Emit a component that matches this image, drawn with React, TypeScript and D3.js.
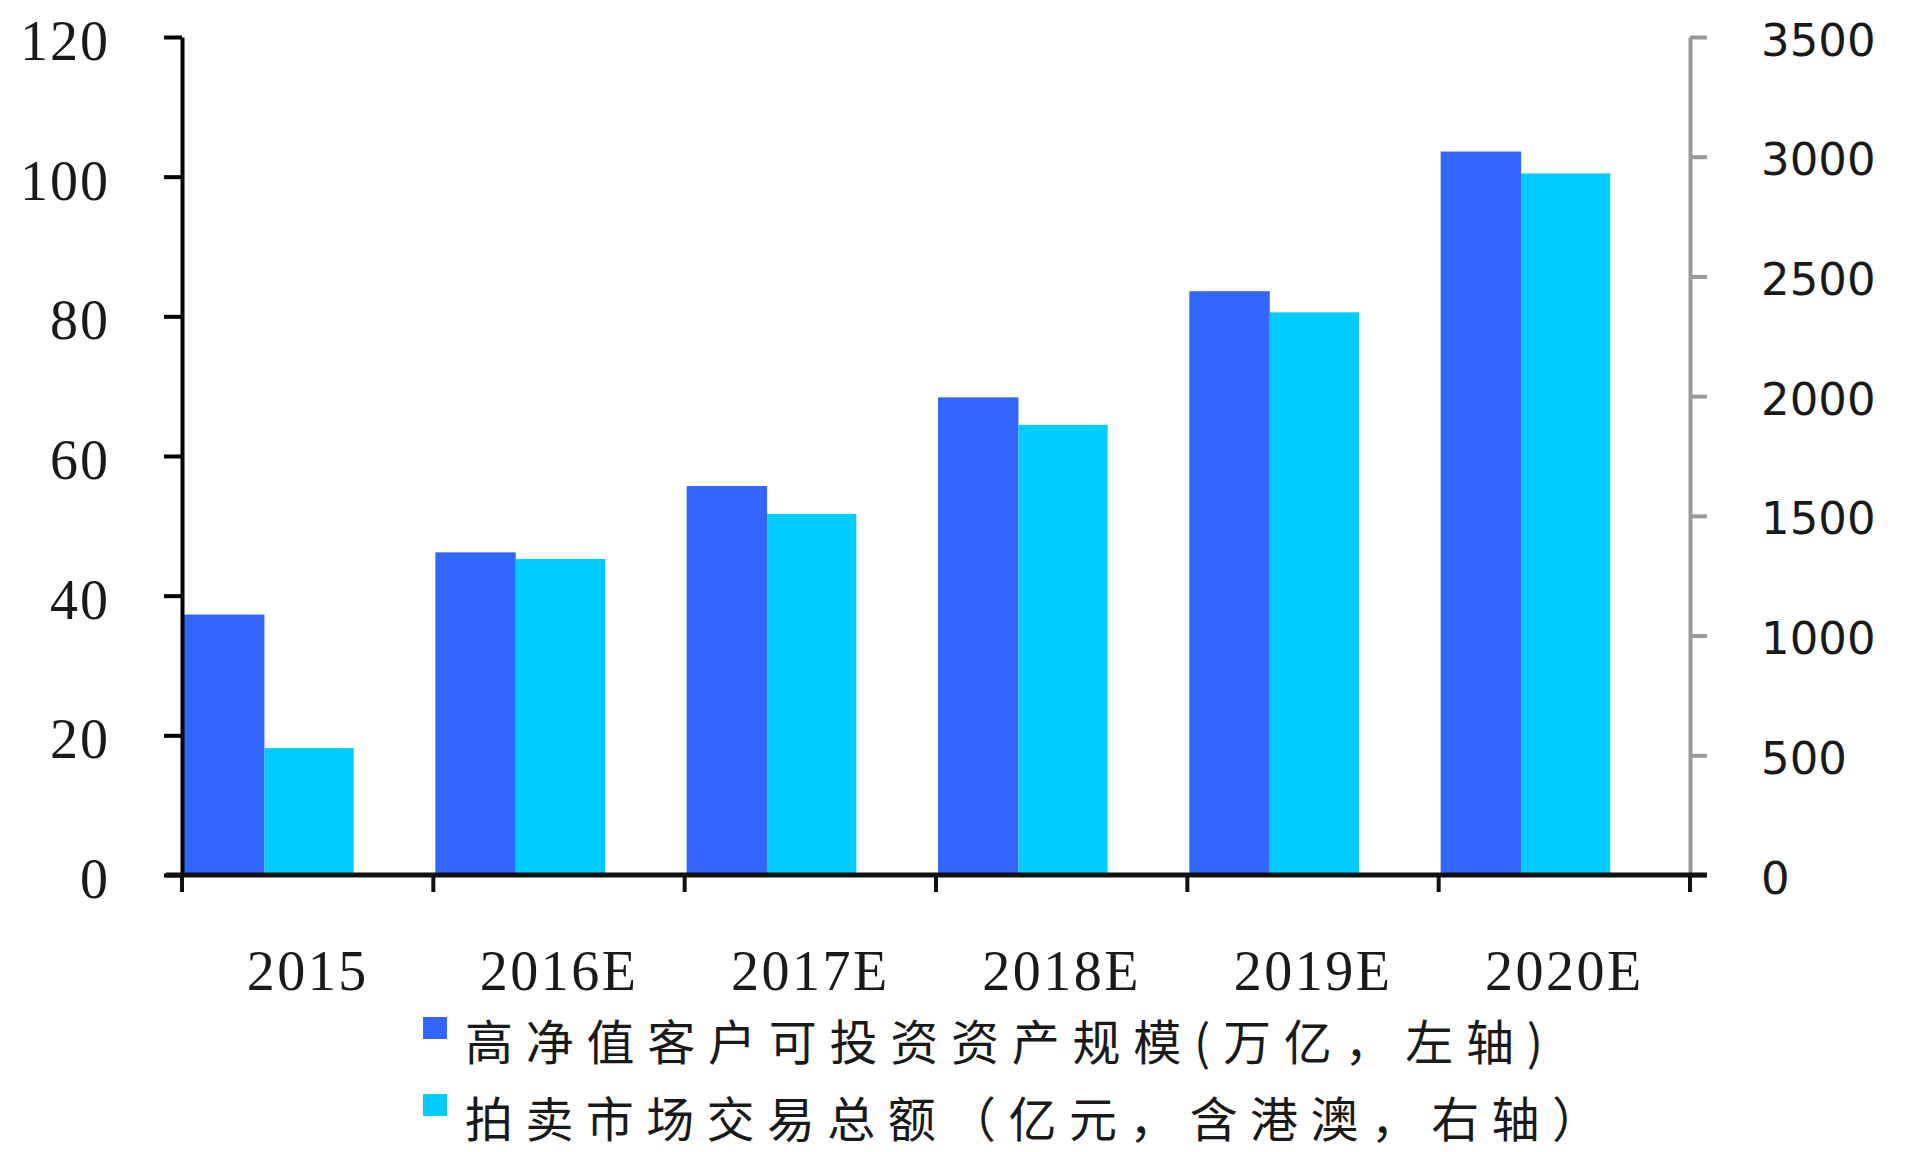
import { useEffect, useRef } from "react";
import * as d3 from "d3";

const categories = ["2015", "2016E", "2017E", "2018E", "2019E", "2020E"];
// 高净值客户可投资资产规模 (万亿, left axis)
const assets = [37.3, 46.2, 55.7, 68.4, 83.6, 103.6];
// 拍卖市场交易总额 (亿元, right axis)
const auction = [530, 1320, 1508, 1880, 2350, 2930];
const leftTicks = [0, 20, 40, 60, 80, 100, 120];
const rightTicks = [0, 500, 1000, 1500, 2000, 2500, 3000, 3500];
const legendLabels = [
  "高净值客户可投资资产规模(万亿，左轴)",
  "拍卖市场交易总额（亿元，含港澳，右轴）",
];

const BLUE = "#3366ff";
const CYAN = "#00ccff";
const SERIF = "'Liberation Serif', 'Times New Roman', serif";
const SANS = "'DejaVu Sans', Verdana, sans-serif";
const CJK = "'Noto Sans CJK SC', sans-serif";

export default function App() {
  const svgRef = useRef<SVGSVGElement | null>(null);

  useEffect(() => {
    const svg = d3.select(svgRef.current);
    svg.selectAll("*").remove();

    const W = 1920;
    const H = 1152;
    const left = 182;
    const right = 1690;
    const top = 37;
    const bottom = 875;

    svg.attr("viewBox", `0 0 ${W} ${H}`);

    const x = d3.scaleBand<string>().domain(categories).range([left, right]);
    const yL = d3.scaleLinear().domain([0, 120]).range([bottom, top]);
    const yR = d3.scaleLinear().domain([0, 3500]).range([bottom, top]);
    const bw = x.bandwidth();

    // bars sit at the left of each category, gap on the right
    svg
      .append("g")
      .selectAll("rect")
      .data(categories)
      .join("rect")
      .attr("x", (c) => x(c)! + bw * 0.008)
      .attr("width", bw * 0.32)
      .attr("y", (_, i) => yL(assets[i]))
      .attr("height", (_, i) => bottom - yL(assets[i]))
      .attr("fill", BLUE);

    svg
      .append("g")
      .selectAll("rect")
      .data(categories)
      .join("rect")
      .attr("x", (c) => x(c)! + bw * 0.328)
      .attr("width", bw * 0.355)
      .attr("y", (_, i) => yR(auction[i]))
      .attr("height", (_, i) => bottom - yR(auction[i]))
      .attr("fill", CYAN);

    // left axis
    const gl = svg
      .append("g")
      .attr("transform", `translate(${left},0)`)
      .call(
        d3
          .axisLeft(yL)
          .tickValues(leftTicks)
          .tickSize(18)
          .tickSizeOuter(0)
          .tickPadding(54),
      );
    gl.select(".domain").attr("stroke", "#000").attr("stroke-width", 4);
    gl.selectAll(".tick line").attr("stroke", "#000").attr("stroke-width", 4);
    gl.selectAll(".tick text")
      .attr("font-family", SERIF)
      .attr("font-size", 56)
      .attr("letter-spacing", 2)
      .attr("fill", "#1a1a1a")
      .attr("dy", "0.4em");

    // right axis
    const gr = svg
      .append("g")
      .attr("transform", `translate(${right},0)`)
      .call(
        d3
          .axisRight(yR)
          .tickValues(rightTicks)
          .tickFormat(d3.format("d"))
          .tickSize(17)
          .tickSizeOuter(0)
          .tickPadding(54),
      );
    gr.select(".domain").attr("stroke", "#999").attr("stroke-width", 4);
    gr.selectAll(".tick line").attr("stroke", "#999").attr("stroke-width", 4);
    gr.selectAll(".tick text")
      .attr("font-family", SANS)
      .attr("font-size", 45)
      .attr("fill", "#1a1a1a")
      .attr("dy", "0.4em");

    // bottom axis: ticks at category boundaries
    const bounds = [...categories.map((c) => x(c)!), right];
    const gb = svg.append("g");
    gb.append("line")
      .attr("x1", left - 16)
      .attr("x2", right + 17)
      .attr("y1", bottom)
      .attr("y2", bottom)
      .attr("stroke", "#111")
      .attr("stroke-width", 5);
    gb.selectAll("line.tk")
      .data(bounds)
      .join("line")
      .attr("class", "tk")
      .attr("x1", (d) => d)
      .attr("x2", (d) => d)
      .attr("y1", bottom)
      .attr("y2", bottom + 17)
      .attr("stroke", "#111")
      .attr("stroke-width", 4);
    gb.selectAll("text")
      .data(categories)
      .join("text")
      .attr("x", (c) => x(c)! + bw / 2)
      .attr("y", 990)
      .attr("text-anchor", "middle")
      .attr("font-family", SERIF)
      .attr("font-size", 56)
      .attr("letter-spacing", 2.5)
      .attr("fill", "#1a1a1a")
      .text((c) => c);

    // legend
    const legend = svg
      .append("g")
      .selectAll("g")
      .data(legendLabels)
      .join("g")
      .attr("transform", (_, i) => `translate(423,${1028 + i * 77})`);
    legend
      .append("rect")
      .attr("x", 0)
      .attr("y", -11)
      .attr("width", 24)
      .attr("height", 22)
      .attr("fill", (_, i) => (i === 0 ? BLUE : CYAN));
    legend
      .append("text")
      .attr("x", 42)
      .attr("y", 11)
      .attr("dominant-baseline", "central")
      .attr("font-family", CJK)
      .attr("font-size", 48)
      .attr("fill", "#1a1a1a")
      .attr("textLength", (_, i) => (i === 0 ? 1078 : 1135))
      .attr("lengthAdjust", "spacing")
      .text((d) => d);
  }, []);

  return (
    <svg
      ref={svgRef}
      width={1920}
      height={1152}
      style={{ position: "absolute", left: 0, top: 0, background: "#fff" }}
    />
  );
}
